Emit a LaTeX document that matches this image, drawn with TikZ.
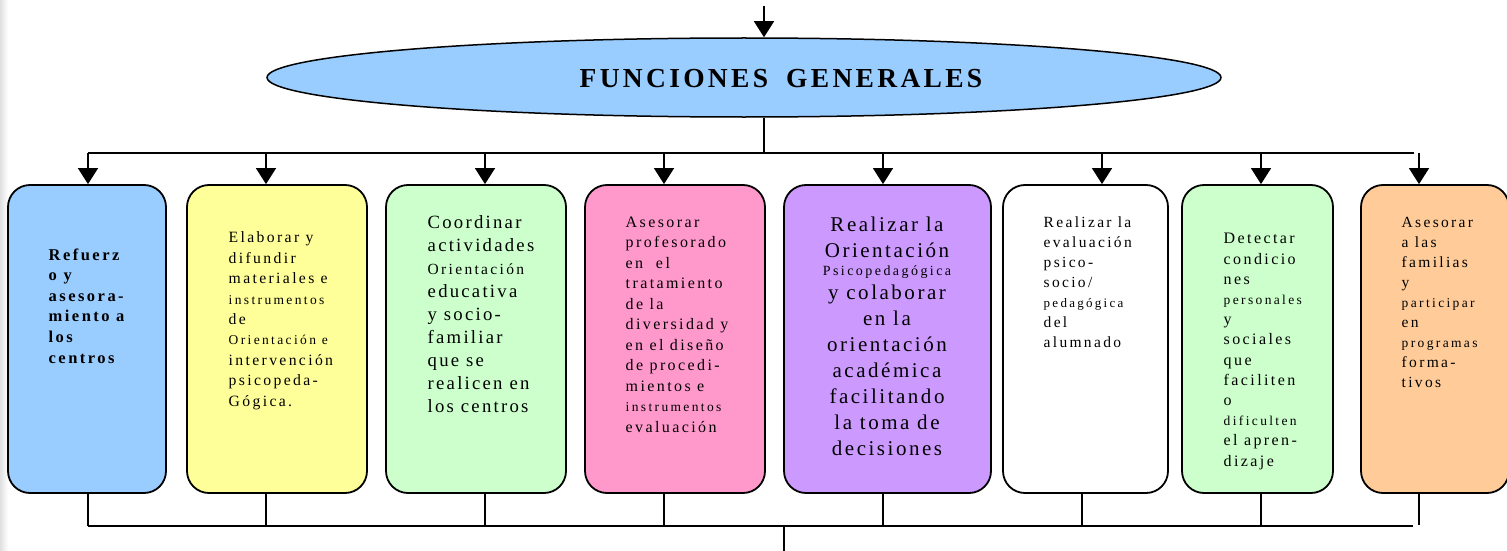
\documentclass[tikz,border=0pt]{standalone}
\usepackage{fontspec}
\setmainfont{Liberation Serif}
\newfontfamily\fuenteN{Liberation Serif}[LetterSpace=15]
\newfontfamily\fuenteP{Liberation Serif}[LetterSpace=17.5]
\newfontfamily\fuenteG{Liberation Serif}[LetterSpace=12]
\newcommand{\chica}{\fontsize{13.5}{20}\fuenteP}
\usetikzlibrary{arrows.meta,shapes.geometric}

\definecolor{azul}{HTML}{99CCFF}
\definecolor{amarillo}{HTML}{FFFF99}
\definecolor{verde}{HTML}{CCFFCC}
\definecolor{rosa}{HTML}{FF99CC}
\definecolor{lila}{HTML}{CC99FF}
\definecolor{naranja}{HTML}{FFCC99}

\begin{document}
\begin{tikzpicture}[x=1pt,y=-1pt,line width=1.4pt,
  flecha/.style={-{Triangle[length=16pt,width=20pt]}},
  caja/.style={draw,rounded corners=22pt,line width=1.8pt,minimum height=308pt},
  texto/.style={inner sep=0pt,align=left,anchor=base west}]
\useasboundingbox (0,0) rectangle (1507,551);
\shade[left color=black!12,right color=white] (0,0) rectangle (8,551);

% elipse
\node[ellipse,draw,fill=azul,line width=1.5pt,minimum width=954pt,minimum height=79pt] (elipse) at (744,77.5) {};
\node[inner sep=0pt,anchor=base] (titulo) at (781,88) {\fontsize{27.5}{30}\fuenteG\bfseries FUNCIONES\hspace{8pt} GENERALES};

\coordinate (entrada) at (764,6);
\coordinate (centro) at (764,153);
\draw[flecha] (entrada) -- (entrada |- elipse.north);
\draw (elipse.south -| centro) -- (centro);

% cajas
\node[caja,fill=azul,minimum width=158pt] (b1) at (87,339) {};
\node[caja,fill=amarillo,minimum width=180pt] (b2) at (277,339) {};
\node[caja,fill=verde,minimum width=180pt] (b3) at (476,339) {};
\node[caja,fill=rosa,minimum width=180pt] (b4) at (675,339) {};
\node[caja,fill=lila,minimum width=207pt] (b5) at (887.5,339) {};
\node[caja,fill=white,minimum width=165pt] (b6) at (1085.5,339) {};
\node[caja,fill=verde,minimum width=151pt] (b7) at (1257.5,339) {};
\node[caja,fill=naranja,minimum width=148pt] (b8) at (1435,339) {};

% flechas de arriba
\coordinate (a1) at (88,153);
\coordinate (a2) at (266,153);
\coordinate (a3) at (485,153);
\coordinate (a4) at (664,153);
\coordinate (a5) at (883,153);
\coordinate (a6) at (1102,153);
\coordinate (a7) at (1261,153);
\coordinate (a8) at (1419,153);
\coordinate (a9) at (1414,153);

\draw[line width=1.8pt] (a1) -- (a9);
\draw[flecha] (a1) -- (a1 |- b1.north);
\draw[flecha] (a2) -- (a2 |- b2.north);
\draw[flecha] (a3) -- (a3 |- b3.north);
\draw[flecha] (a4) -- (a4 |- b4.north);
\draw[flecha] (a5) -- (a5 |- b5.north);
\draw[flecha] (a6) -- (a6 |- b6.north);
\draw[flecha] (a7) -- (a7 |- b7.north);
\draw[flecha] (a8) -- (a8 |- b8.north);

% lineas de abajo
\coordinate (d1) at (88,526);
\coordinate (d2) at (266,526);
\coordinate (d3) at (485,526);
\coordinate (d4) at (664,526);
\coordinate (d5) at (883,526);
\coordinate (d6) at (1082,526);
\coordinate (d7) at (1261,526);
\coordinate (d8) at (1419,525);
\coordinate (d9) at (1413,526);
\coordinate (salida) at (784,526);
\coordinate (fin) at (784,551);

\draw (b1.south -| d1) -- (d1);
\draw (b2.south -| d2) -- (d2);
\draw (b3.south -| d3) -- (d3);
\draw (b4.south -| d4) -- (d4);
\draw (b5.south -| d5) -- (d5);
\draw (b6.south -| d6) -- (d6);
\draw (b7.south -| d7) -- (d7);
\draw (b8.south -| d8) -- (d8);
\draw[line width=2.2pt] (d1) -- (d9);
\draw (salida) -- (fin);

% textos (posicion = linea base de la ultima linea)
\node[texto,font=\fontsize{16.5}{20.6}\fuenteN\bfseries] (t1) at (48,363)
  {Refuerz\\o y\\asesora-\\miento a\\los\\centros};
\node[texto,font=\fontsize{15.7}{20.4}\fuenteN] (t2) at (228,406)
  {Elaborar y\\difundir\\materiales e\\{\chica instrumentos}\\de\\{\chica Orientación e}\\intervención\\psicopeda-\\Gógica.};
\node[texto,font=\fontsize{18.7}{22.9}\fuenteG] (t3) at (427,412)
  {Coordinar\\actividades\\{\fontsize{15.5}{20}\fuenteN Orientación}\\educativa\\y socio-\\familiar\\que se\\realicen en\\los centros};
\node[texto,font=\fontsize{16}{20.5}\fuenteN] (t4) at (625,432)
  {Asesorar\\profesorado\\en\ \ el\\tratamiento\\de la\\diversidad y\\en el diseño\\de procedi-\\mientos e\\{\chica instrumentos}\\evaluación};
\node[texto,align=center,anchor=base,font=\fontsize{21}{26}\fuenteG] (t5) at (887,455)
  {Realizar la\\Orientación\\[-8pt]{\fontsize{14}{20}\fuenteP Psicopedagógica}\\[-2pt]y colaborar\\en la\\orientación\\académica\\facilitando\\la toma de\\decisiones};
\node[texto,font=\fontsize{15.5}{20}\fuenteN] (t6) at (1043,347)
  {Realizar la\\evaluación\\psico-\\socio/\\{\fontsize{13}{20}\fuenteP pedagógica}\\del\\alumnado};
\node[texto,font=\fontsize{16}{20.2}\fuenteN] (t7) at (1223,466)
  {Detectar\\condicio\\nes\\{\chica personales}\\y\\sociales\\que\\faciliten\\o\\{\chica dificulten}\\el apren-\\dizaje};
\node[texto,font=\fontsize{15.5}{20}\fuenteN] (t8) at (1401,387)
  {Asesorar\\a las\\familias\\y\\{\chica participar}\\en\\{\chica programas}\\forma-\\tivos};
\end{tikzpicture}
\end{document}
